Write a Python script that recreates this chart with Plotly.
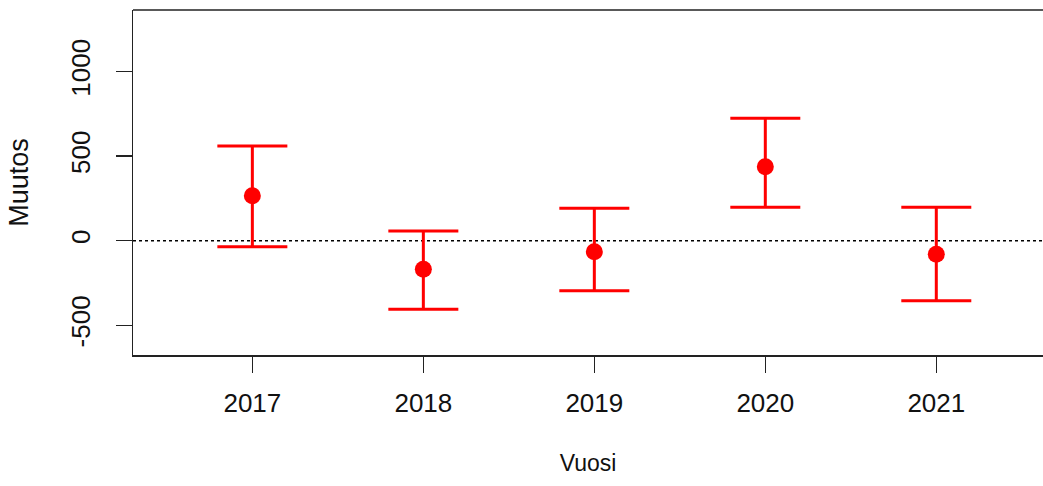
import plotly.graph_objects as go

years = [2017, 2018, 2019, 2020, 2021]
estimate = [266, -169, -65, 438, -80]
upper = [560, 57, 192, 724, 198]
lower = [-36, -406, -296, 198, -355]
yticks = [-500, 0, 500, 1000]

err_plus = [u - e for u, e in zip(upper, estimate)]
err_minus = [e - l for e, l in zip(estimate, lower)]

FONT = "Liberation Sans, Arial, sans-serif"

fig = go.Figure()
fig.add_trace(go.Scatter(
    x=years, y=estimate, mode="markers",
    marker=dict(color="#ff0000", size=17),
    error_y=dict(type="data", array=err_plus, arrayminus=err_minus,
                 color="#ff0000", thickness=3, width=35),
    showlegend=False, hoverinfo="skip",
))

# dotted zero line
fig.add_shape(type="line", xref="paper", yref="y", x0=0, x1=1, y0=0, y1=0,
              line=dict(color="black", width=1.5, dash="dot"), layer="below")
# top frame line
fig.add_shape(type="line", xref="paper", yref="paper", x0=0, x1=1, y0=1, y1=1,
              line=dict(color="#222222", width=1.5))

fig.update_layout(
    width=1043, height=486,
    margin=dict(l=133, r=0, t=10, b=131),
    paper_bgcolor="white", plot_bgcolor="white",
    font=dict(family=FONT, size=26, color="#111111"),
)
fig.update_xaxes(
    range=[2016.302, 2021.624], tickvals=years, ticktext=[str(y) for y in years],
    showgrid=False, zeroline=False, showline=True, linecolor="#222222", linewidth=1.5,
    ticks="outside", ticklen=16, tickwidth=1.5, tickcolor="#222222",
    tickfont=dict(size=26),
    ticklabelstandoff=8,
    title=dict(text="Vuosi", standoff=38, font=dict(size=23)),
)
fig.update_yaxes(
    range=[-676, 1365], tickvals=yticks, ticktext=[str(v) for v in yticks],
    tickangle=-90,
    showgrid=False, zeroline=False, showline=True, linecolor="#222222", linewidth=1.5,
    ticks="outside", ticklen=16, tickwidth=1.5, tickcolor="#222222",
    tickfont=dict(size=26),
    ticklabelstandoff=15,
    title=dict(text="Muutos", standoff=29, font=dict(size=27)),
)

fig.write_html("out.html", config={"displayModeBar": False, "staticPlot": True},
               post_script="document.body.style.margin='0px';document.body.style.overflow='hidden';")
